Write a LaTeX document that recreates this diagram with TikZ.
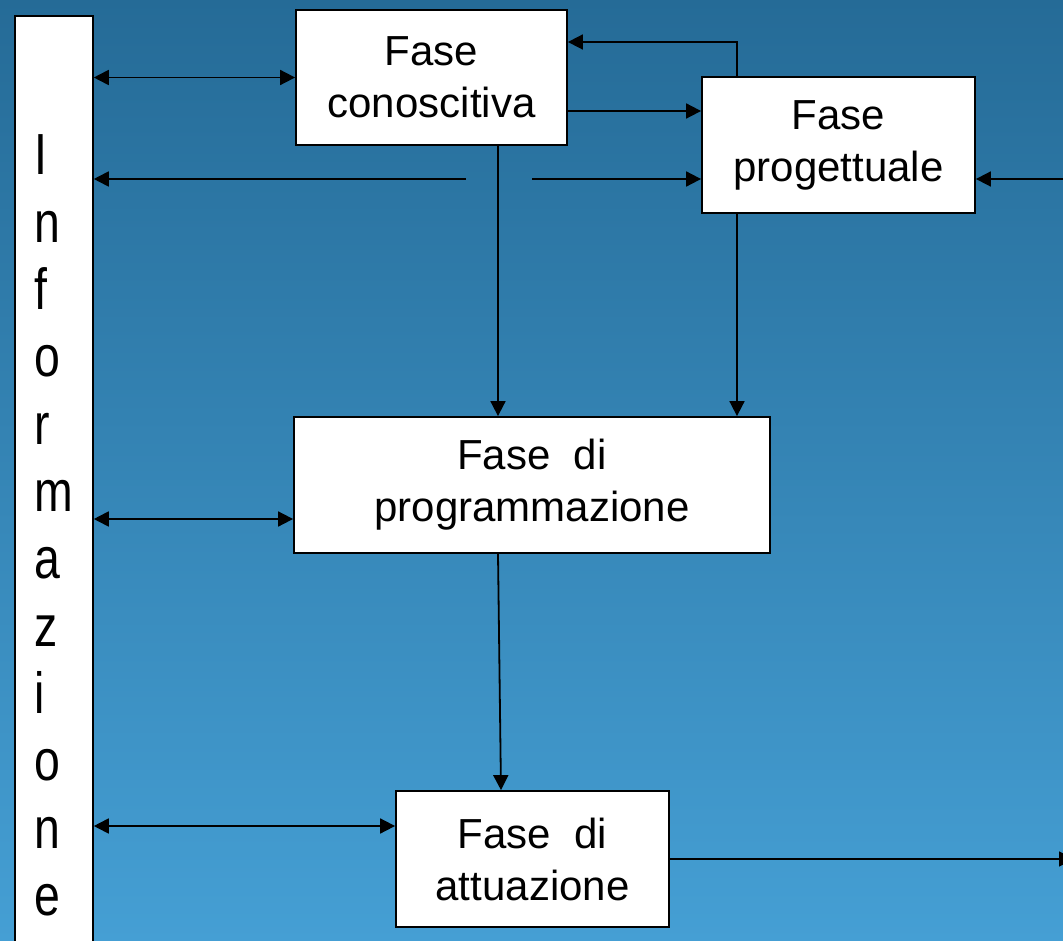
\documentclass[tikz,border=0pt]{standalone}
\usepackage{fontspec}
\setmainfont{Liberation Sans}
\usetikzlibrary{arrows.meta,calc}
\definecolor{bgtop}{RGB}{37,107,151}
\definecolor{bgbot}{RGB}{69,159,212}
\begin{document}
\begin{tikzpicture}[x=1pt,y=-1pt,
  box/.style={draw=black,line width=1.8pt,fill=white,inner sep=0pt,align=center,font=\fontsize{42}{52}\selectfont},
  conn/.style={line width=1.8pt,-{Triangle[length=15pt,width=15pt]}},
  biconn/.style={line width=1.8pt,{Triangle[length=15pt,width=15pt]}-{Triangle[length=15pt,width=15pt]}},
  letter/.style={anchor=base west,inner sep=0pt,font=\fontsize{58}{58}\selectfont}]
\useasboundingbox (0,0) rectangle (1063,941);
\clip (0,0) rectangle (1063,941);
\shade[top color=bgtop,bottom color=bgbot] (0,0) rectangle (1063,941);

% Informazione column
\node[draw=black,line width=1.8pt,fill=white,minimum width=78pt,minimum height=960pt,anchor=north west,inner sep=0pt] (info) at (14,15) {};
\foreach \l [count=\i] in {I,n,f,o,r,m,a,z,i,o,n,e}
  \node[letter] (L\i) at (34,{175+67.3*(\i-1)}) {\scalebox{0.8}[1]{\l}};

% phase boxes
\node[box,minimum width=271pt,minimum height=135pt] (con) at (431.5,77.5) {Fase\\conoscitiva};
\node[box,minimum width=273pt,minimum height=136pt] (pro) at (838.5,145) {Fase\\progettuale};
\node[box,minimum width=476pt,minimum height=136pt] (pgm) at (532,485) {Fase~~di\\programmazione};
\node[box,minimum width=273pt,minimum height=136pt] (att) at (532.5,859) {Fase~~di\\attuazione};

% helper coordinates
\coordinate (gapL) at (466,179);
\coordinate (gapR) at (532,179);
\coordinate (y111) at (0,111);
\coordinate (fbx) at (737,42);
\coordinate (rin) at (1070,179);
\coordinate (x498) at (498,0);
\coordinate (x501) at (501,0);
\coordinate (y519) at (0,519);
\coordinate (y826) at (0,826);
\coordinate (rout) at (1074,859);

% connectors
\draw[biconn] (info.east |- con.west) -- (con.west);
\draw[conn] (gapL) -- (info.east |- gapL);
\draw[conn] (gapR) -- (pro.west |- gapR);
\draw[conn] (con.east |- y111) -- (pro.west |- y111);
\draw[conn] (pro.north -| fbx) -- (fbx) -- (con.east |- fbx);
\draw[conn] (rin) -- (pro.east |- rin);
\draw[conn] (con.south -| x498) -- (pgm.north -| x498);
\draw[conn] (pro.south -| fbx) -- (pgm.north -| fbx);
\draw[biconn] (info.east |- y519) -- (pgm.west |- y519);
\draw[conn] (pgm.south -| x498) -- (att.north -| x501);
\draw[biconn] (info.east |- y826) -- (att.west |- y826);
\draw[conn] (att.east |- rout) -- (rout);
\end{tikzpicture}
\end{document}
